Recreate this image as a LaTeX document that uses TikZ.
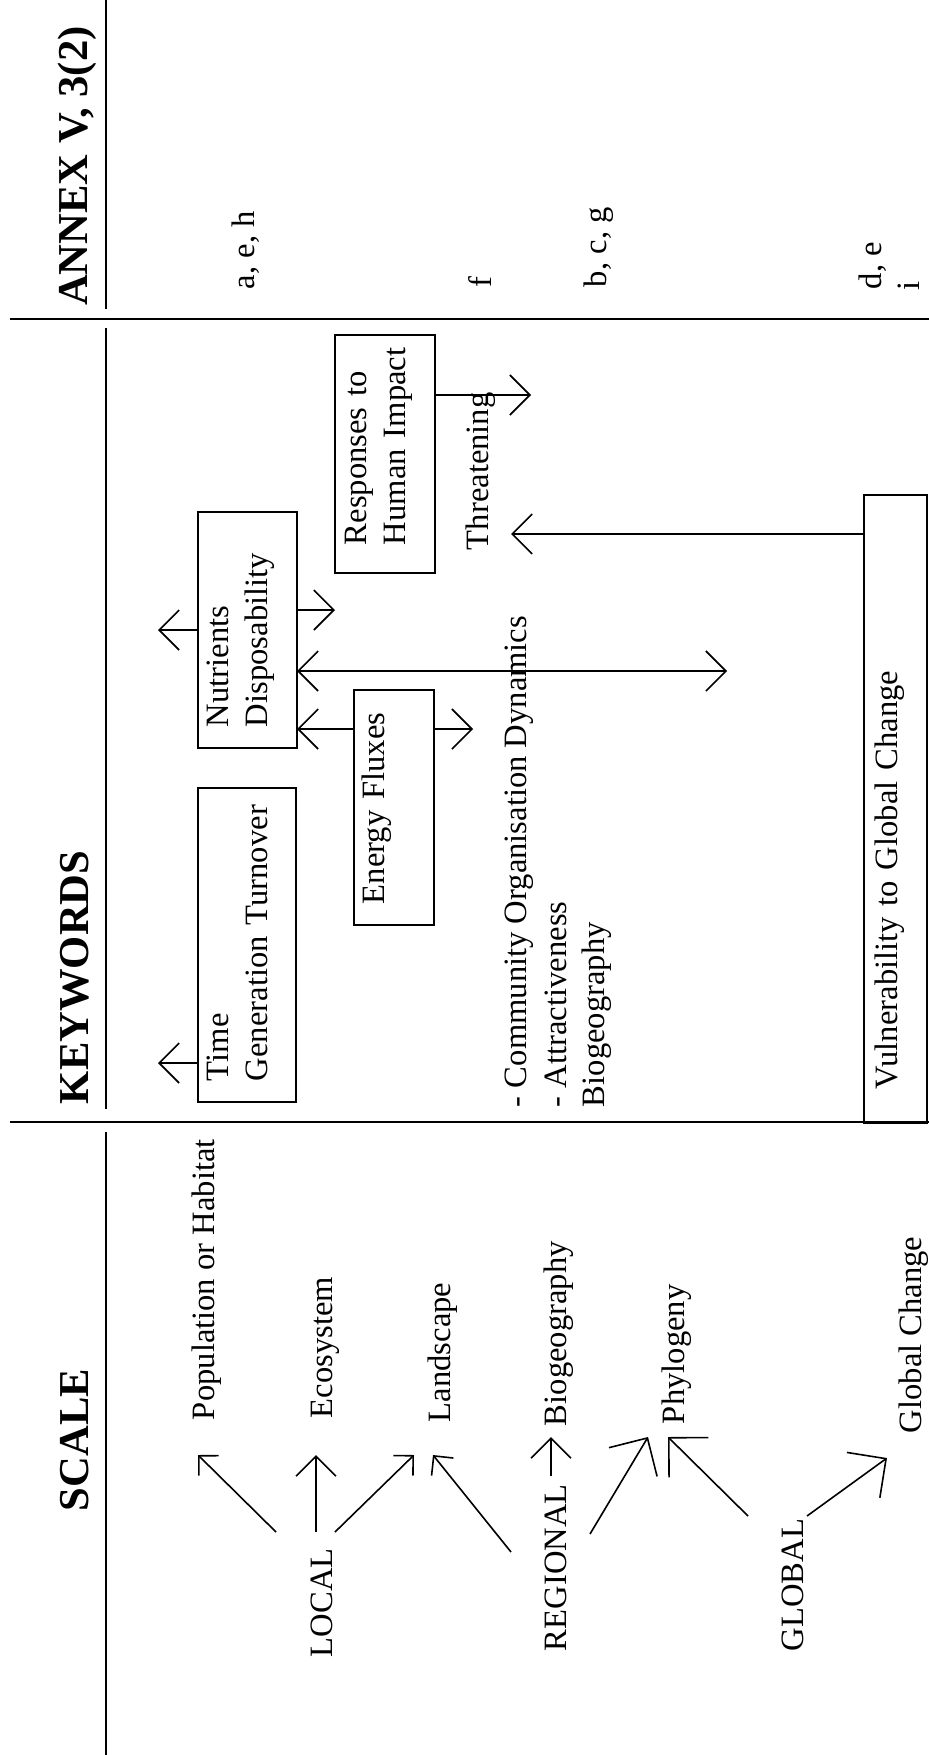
\documentclass[tikz,border=0pt]{standalone}
\usepackage{fontspec}
\setmainfont{Liberation Serif}
\usetikzlibrary{arrows.meta}

\tikzset{
  lbl/.style={rotate=90, anchor=base west, inner sep=0pt, outer sep=0pt,
    font=\fontsize{16.3}{19.5}\selectfont},
  colhead/.style={lbl, font=\fontsize{21.3}{25}\selectfont\bfseries},
  kwbox/.style={lbl, draw, line width=0.8pt, align=left},
  rule/.style={line width=1.1pt},
  thinrule/.style={line width=0.8pt},
  kwarrow/.style={line width=0.8pt, -{Straight Barb[length=10pt, width=20pt]}},
  twoway/.style={line width=0.8pt, {Straight Barb[length=10pt, width=20pt]}-{Straight Barb[length=10pt, width=20pt]}},
  scarrow/.style={line width=0.8pt, -{Straight Barb[length=7pt, width=14pt]}},
  bigarrow/.style={line width=0.8pt, -{Straight Barb[length=14pt, width=28pt]}},
}
\newcommand{\ind}[1]{\hspace*{#1}}

\begin{document}
\begin{tikzpicture}[x=0.5pt, y=-0.5pt]
  \useasboundingbox (0,0) rectangle (929,1755);

  % column heads and rules
  \node[colhead] (annex) at (87,306) {ANNEX V, 3(2)};
  \node[colhead] (keyw) at (88,1104) {KEYWORDS};
  \node[colhead] (scale) at (88,1511) {SCALE};
  \draw[thinrule] (106,0) -- (106,309);
  \draw[thinrule] (106,328) -- (106,1109);
  \draw[thinrule] (106,1132) -- (106,1755);
  \draw[rule] (10,319) -- (929,319);
  \draw[rule] (10,1122) -- (929,1122);

  % annex entries
  \node[lbl] (aeh) at (254,289) {a, e, h};
  \node[lbl] (f) at (491,287) {f};
  \node[lbl] (bcg) at (606,287) {b, c, g};
  \node[lbl] (de) at (881,289) {d, e};
  \node[lbl] (i) at (919,291) {i};

  % keyword boxes
  \node[kwbox, text width=157pt, text height=15pt, text depth=34pt] (time) at (228,1102)
    {\ind{10.5pt}Time\\\ind{10.5pt}Generation Turnover};
  \node[kwbox, text width=118pt, text height=15pt, text depth=34.5pt] (nutr) at (228,748)
    {\ind{10.5pt}Nutrients\\\ind{10.5pt}Disposability};
  \node[kwbox, text width=117.5pt, text height=15pt, text depth=25pt] (energy) at (384,925)
    {\ind{10.5pt}Energy Fluxes};
  \node[kwbox, text width=119pt, text height=15.5pt, text depth=34.5pt] (resp) at (366,573)
    {\ind{14pt}Responses to\\\ind{14pt}Human Impact};
  \node[kwbox, text width=314pt, text height=16.5pt, text depth=15pt] (vuln) at (897,1123)
    {\ind{17pt}Vulnerability to Global Change};

  % free keywords
  \node[lbl] (threat) at (488,550) {Threatening};
  \node[lbl] (comm) at (526,1107) {- Community Organisation Dynamics};
  \node[lbl] (attr) at (566,1107) {- Attractiveness};
  \node[lbl] (biokw) at (604,1107) {Biogeography};

  % keyword arrows
  \coordinate (timeTip) at (158,1063);
  \coordinate (nutUp) at (158,630);
  \coordinate (nutDown) at (335,610);
  \coordinate (commTip) at (727,671);
  \coordinate (fluxTip) at (473,729);
  \coordinate (threatTop) at (531,395);
  \coordinate (threatBase) at (511,534);
  \draw[kwarrow] (timeTip -| time.north) -- (timeTip);
  \draw[kwarrow] (nutUp -| nutr.north) -- (nutUp);
  \draw[kwarrow] (nutDown -| nutr.south) -- (nutDown);
  \draw[twoway] (commTip -| nutr.south) -- (commTip);
  \draw[kwarrow] (fluxTip -| energy.north) -- (fluxTip -| nutr.south);
  \draw[kwarrow] (fluxTip -| energy.south) -- (fluxTip);
  \draw[kwarrow] (threatTop -| resp.south) -- (threatTop);
  \draw[kwarrow] (threatBase -| vuln.north) -- (threatBase);

  % scale column
  \node[lbl] (pop) at (214,1420) {Population or Habitat};
  \node[lbl] (eco) at (332,1418) {Ecosystem};
  \node[lbl] (land) at (450,1422) {Landscape};
  \node[lbl] (local) at (332,1657) {LOCAL};
  \node[lbl] (regional) at (566,1651) {REGIONAL};
  \node[lbl] (bio) at (566,1426) {Biogeography};
  \node[lbl] (phylo) at (684,1424) {Phylogeny};
  \node[lbl] (global) at (803,1651) {GLOBAL};
  \node[lbl] (gchange) at (921,1433) {Global Change};

  % LOCAL
  \coordinate (loc1) at (276,1532);
  \coordinate (loc2) at (316,1532);
  \coordinate (loc3) at (335,1532);
  \coordinate (pop1) at (198,1455);
  \coordinate (eco1) at (316,1455);
  \coordinate (land1) at (414,1455);
  \draw[scarrow] (loc1) -- (pop1);
  \draw[kwarrow] (loc2) -- (eco1);
  \draw[scarrow] (loc3) -- (land1);

  % REGIONAL
  \coordinate (reg1) at (511,1552);
  \coordinate (reg2) at (551,1476);
  \coordinate (reg3) at (590,1534);
  \coordinate (land2) at (433,1455);
  \coordinate (bio1) at (551,1437);
  \coordinate (phy1) at (648,1437);
  \draw[scarrow] (reg1) -- (land2);
  \draw[kwarrow] (reg2) -- (bio1);
  \draw[bigarrow] (reg3) -- (phy1);

  % GLOBAL
  \coordinate (glo1) at (748,1516);
  \coordinate (glo2) at (807,1516);
  \coordinate (phy2) at (668,1437);
  \coordinate (gch1) at (887,1458);
  \draw[bigarrow] (glo1) -- (phy2);
  \draw[bigarrow] (glo2) -- (gch1);
\end{tikzpicture}
\end{document}
